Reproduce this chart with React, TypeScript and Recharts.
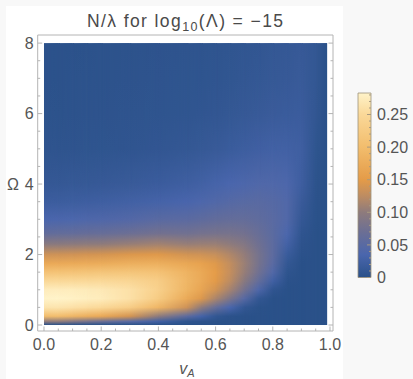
import { BarChart, Bar, ComposedChart, ReferenceArea, XAxis, YAxis } from "recharts";

// sample rows (Ω) and columns (v_A) of the density image
const omegaRows = [0, 0.1, 0.25, 0.5, 0.75, 1, 1.25, 1.5, 1.75, 2, 2.3, 2.6, 3, 3.5, 4, 5, 6, 7, 8];
const vaCols = [0, 0.05, 0.1, 0.15, 0.2, 0.3, 0.4, 0.5, 0.55, 0.6, 0.65, 0.7, 0.75, 0.8, 0.85, 0.9, 0.95, 0.99];

// N/λ along each column, one value per omegaRows entry
const nV000 = [0, 0.1, 0.2, 0.265, 0.283, 0.275, 0.25, 0.21, 0.17, 0.135, 0.095, 0.06, 0.035, 0.02, 0.012, 0.005, 0.003, 0.002, 0.002];
const nV005 = [0, 0.1, 0.2, 0.265, 0.283, 0.275, 0.25, 0.211, 0.171, 0.136, 0.096, 0.061, 0.036, 0.02, 0.012, 0.005, 0.003, 0.002, 0.002];
const nV010 = [0, 0.09, 0.19, 0.26, 0.28, 0.274, 0.25, 0.212, 0.172, 0.137, 0.097, 0.062, 0.037, 0.021, 0.013, 0.005, 0.003, 0.003, 0.002];
const nV015 = [0, 0.08, 0.18, 0.255, 0.277, 0.272, 0.25, 0.213, 0.174, 0.139, 0.099, 0.064, 0.039, 0.022, 0.013, 0.006, 0.004, 0.003, 0.002];
const nV020 = [0, 0.07, 0.17, 0.25, 0.274, 0.27, 0.25, 0.215, 0.175, 0.14, 0.1, 0.065, 0.04, 0.023, 0.014, 0.006, 0.004, 0.003, 0.003];
const nV030 = [0, 0.05, 0.14, 0.23, 0.26, 0.26, 0.245, 0.215, 0.18, 0.145, 0.105, 0.07, 0.044, 0.026, 0.016, 0.007, 0.005, 0.004, 0.003];
const nV040 = [0, 0.025, 0.1, 0.19, 0.225, 0.235, 0.23, 0.21, 0.18, 0.147, 0.11, 0.076, 0.05, 0.03, 0.019, 0.009, 0.006, 0.005, 0.004];
const nV050 = [0, 0.006, 0.055, 0.135, 0.172, 0.187, 0.19, 0.185, 0.167, 0.138, 0.104, 0.074, 0.052, 0.034, 0.023, 0.011, 0.007, 0.006, 0.005];
const nV055 = [0, 0.003, 0.03, 0.1, 0.145, 0.165, 0.171, 0.17, 0.16, 0.136, 0.106, 0.078, 0.056, 0.038, 0.026, 0.013, 0.008, 0.006, 0.005];
const nV060 = [0, 0.001, 0.01, 0.065, 0.115, 0.138, 0.149, 0.152, 0.146, 0.131, 0.106, 0.08, 0.06, 0.042, 0.031, 0.015, 0.009, 0.007, 0.006];
const nV065 = [0, 0, 0.002, 0.035, 0.085, 0.112, 0.125, 0.13, 0.128, 0.118, 0.1, 0.08, 0.062, 0.046, 0.035, 0.018, 0.011, 0.008, 0.007];
const nV070 = [0, 0, 0, 0.01, 0.048, 0.078, 0.096, 0.105, 0.107, 0.103, 0.09, 0.076, 0.062, 0.049, 0.038, 0.021, 0.013, 0.01, 0.008];
const nV075 = [0, 0, 0, 0.001, 0.01, 0.04, 0.062, 0.074, 0.079, 0.079, 0.073, 0.066, 0.058, 0.05, 0.041, 0.024, 0.015, 0.011, 0.009];
const nV080 = [0, 0, 0, 0, 0, 0.007, 0.025, 0.043, 0.051, 0.055, 0.055, 0.053, 0.051, 0.047, 0.041, 0.026, 0.017, 0.013, 0.011];
const nV085 = [0, 0, 0, 0, 0, 0, 0.002, 0.006, 0.011, 0.018, 0.028, 0.037, 0.042, 0.042, 0.038, 0.026, 0.018, 0.014, 0.012];
const nV090 = [0, 0, 0, 0, 0, 0, 0, 0, 0, 0.002, 0.004, 0.007, 0.012, 0.017, 0.022, 0.023, 0.019, 0.016, 0.014];
const nV095 = [0, 0, 0, 0, 0, 0, 0, 0, 0, 0, 0, 0, 0.001, 0.002, 0.003, 0.006, 0.009, 0.01, 0.01];
const nV099 = [0, 0, 0, 0, 0, 0, 0, 0, 0, 0, 0, 0, 0, 0, 0, 0, 0, 0, 0];

const columns = [nV000, nV005, nV010, nV015, nV020, nV030, nV040, nV050, nV055, nV060, nV065, nV070, nV075, nV080, nV085, nV090, nV095, nV099];

// ticks
const xTicks = [0, 0.05, 0.1, 0.15, 0.2, 0.25, 0.3, 0.35, 0.4, 0.45, 0.5, 0.55, 0.6, 0.65, 0.7, 0.75, 0.8, 0.85, 0.9, 0.95, 1];
const xMajors = [0, 0.2, 0.4, 0.6, 0.8, 1];
const xLabels = ["0.0", "0.2", "0.4", "0.6", "0.8", "1.0"];
const yTicks = [0, 0.5, 1, 1.5, 2, 2.5, 3, 3.5, 4, 4.5, 5, 5.5, 6, 6.5, 7, 7.5, 8];
const yMajors = [0, 2, 4, 6, 8];
const yLabels = ["0", "2", "4", "6", "8"];
const cbTicks = [0, 0.01, 0.02, 0.03, 0.04, 0.05, 0.06, 0.07, 0.08, 0.09, 0.1, 0.11, 0.12, 0.13, 0.14, 0.15, 0.16, 0.17, 0.18, 0.19, 0.2, 0.21, 0.22, 0.23, 0.24, 0.25, 0.26, 0.27, 0.28];
const cbMajors = [0, 0.05, 0.1, 0.15, 0.2, 0.25];
const cbLabels = ["0", "0.05", "0.10", "0.15", "0.20", "0.25"];
const cbMax = 0.283;

// colour map
const cmapAt = [0, 0.035, 0.07, 0.1, 0.125, 0.15, 0.2, 0.25, 0.283];
const cmapHex = ["#2a5189", "#4a66ad", "#6c6f94", "#8e7b7c", "#bd8c62", "#e49b48", "#f2bd6d", "#fad898", "#fff3c9"];

const FONT = "'Liberation Sans', Arial, sans-serif";
const FRAME = "#b4b4b4";
const LABEL = "#555";
const EXT = 0.006; // overlap of each blend strip onto the next one, hides seams

function hexRgb(h: string) {
  return [1, 3, 5].map((i) => parseInt(h.slice(i, i + 2), 16));
}

function colorFor(n: number) {
  const t = Math.max(0, Math.min(n, cmapAt[cmapAt.length - 1]));
  for (let i = 1; i < cmapAt.length; i++) {
    if (t <= cmapAt[i]) {
      const f = (t - cmapAt[i - 1]) / (cmapAt[i] - cmapAt[i - 1]);
      const a = hexRgb(cmapHex[i - 1]);
      const b = hexRgb(cmapHex[i]);
      const c = a.map((v, k) => Math.round(v + (b[k] - v) * f));
      return `rgb(${c[0]},${c[1]},${c[2]})`;
    }
  }
  return cmapHex[cmapHex.length - 1];
}

function majorIndex(v: number, majors: number[]) {
  return majors.findIndex((m) => Math.abs(m - v) < 1e-6);
}

function FrameTick(props: any) {
  const { x, y, payload, side, majors, labels } = props;
  const idx = majorIndex(payload.value, majors);
  const len = idx >= 0 ? 4.5 : 2.5;
  let line;
  if (side === "bottom") line = <line x1={x} y1={y} x2={x} y2={y - len} />;
  else if (side === "top") line = <line x1={x} y1={y} x2={x} y2={y + len} />;
  else if (side === "left") line = <line x1={x} y1={y} x2={x + len} y2={y} />;
  else line = <line x1={x} y1={y} x2={x - len} y2={y} />;
  return (
    <g>
      <g stroke={FRAME} strokeWidth={1}>{line}</g>
      {idx >= 0 && labels && side === "bottom" && (
        <text x={x} y={y + 19} textAnchor="middle" fontSize={16} fill={LABEL} fontFamily={FONT}>
          {labels[idx]}
        </text>
      )}
      {idx >= 0 && labels && side === "left" && (
        <text x={x - 4} y={y + 5.7} textAnchor="end" fontSize={16} fill={LABEL} fontFamily={FONT}>
          {labels[idx]}
        </text>
      )}
    </g>
  );
}

function BarTick(props: any) {
  const { x, y, payload } = props;
  const idx = majorIndex(payload.value, cbMajors);
  const len = idx >= 0 ? 4 : 2;
  return (
    <g>
      <line x1={x - len} y1={y} x2={x} y2={y} stroke="#a89a80" strokeWidth={1} />
      {idx >= 0 && (
        <text x={x + 6} y={y + 5.7} textAnchor="start" fontSize={16} fill={LABEL} fontFamily={FONT}>
          {cbLabels[idx]}
        </text>
      )}
    </g>
  );
}

export default function App() {
  const last = vaCols.length - 1;
  const strips = vaCols.slice(0, last).map((v, j) => {
    const right = vaCols[j + 1];
    const ext = j + 1 < last ? EXT : 0;
    return { j, left: v, right, ext, full: (right - v) / (right - v + ext) };
  });
  return (
    <div style={{ position: "fixed", left: 0, top: 0, width: 413, height: 379, background: "#f8f8f8", overflow: "hidden" }}>
      <div style={{ position: "absolute", left: 6, top: 6, width: 337, height: 373, background: "#ffffff" }} />
      <div style={{ position: "absolute", left: 0, top: 0 }}>
        <ComposedChart width={413} height={379} margin={{ top: 34, left: 36.7, right: 79, bottom: 47 }}>
          <defs>
            {columns.map((col, j) => (
              <linearGradient key={j} id={`col${j}`} x1="0" y1="0" x2="0" y2="1">
                {omegaRows
                  .map((w, r) => ({ w, n: col[r] }))
                  .reverse()
                  .map((s, k) => (
                    <stop key={k} offset={(8 - s.w) / 8} stopColor={colorFor(s.n)} />
                  ))}
              </linearGradient>
            ))}
            {strips.map((s) => (
              <linearGradient key={s.j} id={`rampGrad${s.j}`} x1="0" y1="0" x2="1" y2="0">
                <stop offset="0" stopColor="#000" />
                <stop offset={s.full} stopColor="#fff" />
                <stop offset="1" stopColor="#fff" />
              </linearGradient>
            ))}
            {strips.map((s) => (
              <mask key={s.j} id={`ramp${s.j}`} maskContentUnits="objectBoundingBox">
                <rect x="0" y="0" width="1" height="1" fill={`url(#rampGrad${s.j})`} />
              </mask>
            ))}
          </defs>
          <XAxis
            type="number"
            dataKey="va"
            domain={[-0.022, 1.0105]}
            ticks={xTicks}
            interval={0}
            allowDataOverflow
            height={1}
            tickSize={0}
            tickMargin={0}
            tickLine={false}
            axisLine={{ stroke: FRAME }}
            tick={(p: any) => <FrameTick {...p} side="bottom" majors={xMajors} labels={xLabels} />}
          />
          <XAxis
            xAxisId="top"
            orientation="top"
            type="number"
            domain={[-0.022, 1.0105]}
            ticks={xTicks}
            interval={0}
            allowDataOverflow
            height={1}
            tickSize={0}
            tickMargin={0}
            tickLine={false}
            axisLine={{ stroke: FRAME }}
            tick={(p: any) => <FrameTick {...p} side="top" majors={xMajors} />}
          />
          <YAxis
            type="number"
            dataKey="omega"
            domain={[-0.17, 8.23]}
            ticks={yTicks}
            interval={0}
            allowDataOverflow
            width={1}
            tickSize={0}
            tickMargin={0}
            tickLine={false}
            axisLine={{ stroke: FRAME }}
            tick={(p: any) => <FrameTick {...p} side="left" majors={yMajors} labels={yLabels} />}
          />
          <YAxis
            yAxisId="right"
            orientation="right"
            type="number"
            domain={[-0.17, 8.23]}
            ticks={yTicks}
            interval={0}
            allowDataOverflow
            width={1}
            tickSize={0}
            tickMargin={0}
            tickLine={false}
            axisLine={{ stroke: FRAME }}
            tick={(p: any) => <FrameTick {...p} side="right" majors={yMajors} />}
          />
          {strips.map((s) => (
            <ReferenceArea
              key={`base${s.j}`}
              x1={s.left}
              x2={s.right}
              y1={0}
              y2={8}
              shape={(p: any) => <rect x={p.x} y={p.y} width={p.width} height={p.height} fill={`url(#col${s.j})`} />}
            />
          ))}
          {strips.map((s) => (
            <ReferenceArea
              key={`ramp${s.j}`}
              x1={s.left}
              x2={s.right + s.ext}
              y1={0}
              y2={8}
              shape={(p: any) => (
                <rect
                  x={p.x}
                  y={p.y}
                  width={p.width}
                  height={p.height}
                  fill={`url(#col${s.j + 1})`}
                  mask={`url(#ramp${s.j})`}
                />
              )}
            />
          ))}
        </ComposedChart>
      </div>
      <div style={{ position: "absolute", left: 0, top: 0 }}>
        <BarChart
          width={413}
          height={379}
          data={[{ name: "N/λ", top: cbMax }]}
          margin={{ top: 93, left: 358, right: 41, bottom: 101.5 }}
          barCategoryGap={0}
        >
          <defs>
            <linearGradient id="cbGrad" x1="0" y1="1" x2="0" y2="0">
              {cmapAt.map((a, k) => (
                <stop key={k} offset={a / cbMax} stopColor={cmapHex[k]} />
              ))}
            </linearGradient>
          </defs>
          <XAxis dataKey="name" hide />
          <YAxis
            orientation="right"
            type="number"
            domain={[0, cbMax]}
            ticks={cbTicks}
            interval={0}
            width={1}
            tickSize={0}
            tickMargin={0}
            tickLine={false}
            axisLine={false}
            tick={(p: any) => <BarTick {...p} />}
          />
          <Bar dataKey="top" fill="url(#cbGrad)" stroke="#9c927c" strokeWidth={0.8} isAnimationActive={false} />
        </BarChart>
      </div>
      <svg width={413} height={379} style={{ position: "absolute", left: 0, top: 0, pointerEvents: "none" }}>
        <text x={185} y={27} textAnchor="middle" fontSize={17.5} fill="#4a4a4a" fontFamily={FONT} textLength={196} lengthAdjust="spacing">
          N/λ for log
          <tspan fontSize={12.5} dy={4}>10</tspan>
          <tspan dy={-4}>(Λ) = −15</tspan>
        </text>
        <text x={13} y={189.5} textAnchor="middle" fontSize={16} fill={LABEL} fontFamily={FONT}>
          Ω
        </text>
        <text x={187} y={374} textAnchor="middle" fontSize={16} fill={LABEL} fontFamily={FONT} fontStyle="italic">
          v<tspan fontSize={11} dy={3}>A</tspan>
        </text>
      </svg>
    </div>
  );
}
